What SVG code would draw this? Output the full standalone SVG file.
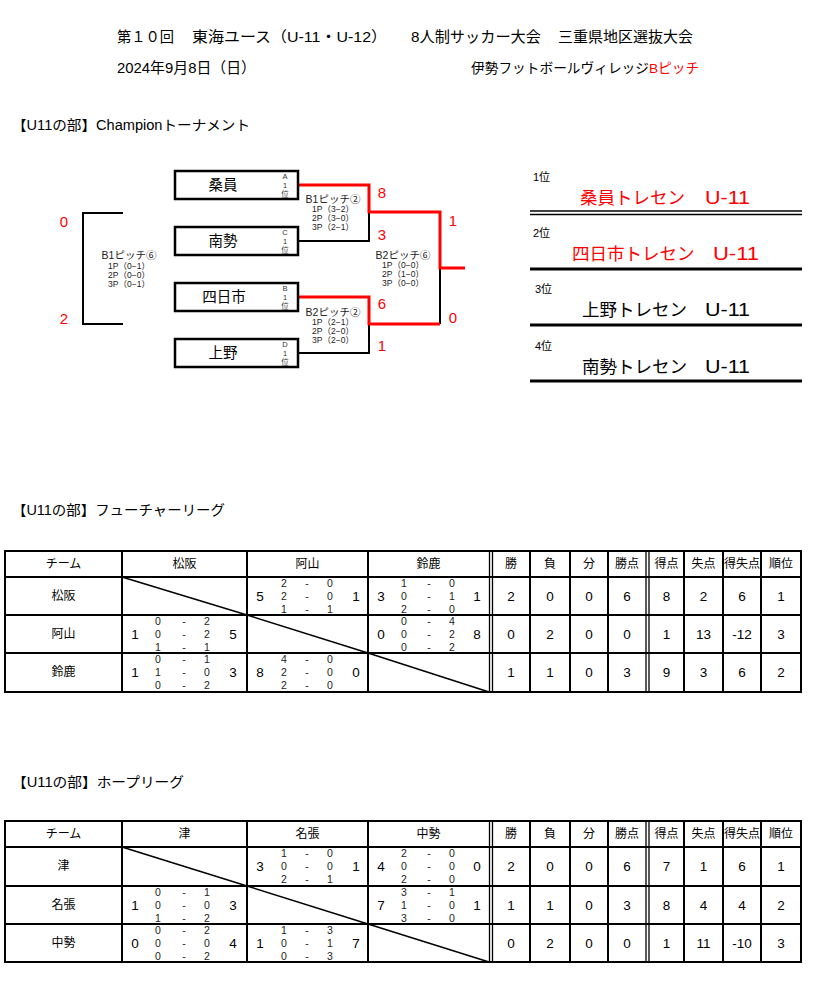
<svg xmlns="http://www.w3.org/2000/svg" width="816" height="984" viewBox="0 0 816 984">
<style>
text{font-family:"Liberation Sans","Noto Sans CJK JP",sans-serif;fill:#000}
.c{text-anchor:middle;dominant-baseline:central}
.red{fill:#ff0000}
.hd{font-size:15px}
.sec{font-size:14px}
.nm{font-size:14.5px}
.sm{font-size:7.5px;fill:#333}
.pt{font-size:10.5px;fill:#222}
.ps{font-size:8.5px;fill:#222}
.sc{font-size:15px;fill:#ff0000}
.rk{font-size:11px}
.rn{font-size:17.5px}
.th{font-size:12px}
.big{font-size:13.5px}
.s{font-size:10.5px;fill:#222}
.box{fill:#fff;stroke:#000;stroke-width:2.5}
.blk{fill:none;stroke:#000;stroke-width:2}
.rd{fill:none;stroke:#ff0000;stroke-width:3}
.grid{fill:none;stroke:#000;stroke-width:2}
.thin{stroke:#000;stroke-width:1.3}
.dg{stroke:#000;stroke-width:1.5}
</style>

<!-- header -->
<text x="117" y="42" class="hd" textLength="57" lengthAdjust="spacingAndGlyphs">第１０回</text>
<text x="192" y="42" class="hd" textLength="195" lengthAdjust="spacingAndGlyphs">東海ユース（U-11・U-12）</text>
<text x="411" y="42" class="hd" textLength="130" lengthAdjust="spacingAndGlyphs">8人制サッカー大会</text>
<text x="558" y="42" class="hd" textLength="135" lengthAdjust="spacingAndGlyphs">三重県地区選抜大会</text>
<text x="117" y="73" class="hd" textLength="139" lengthAdjust="spacingAndGlyphs">2024年9月8日（日）</text>
<text x="471" y="73" font-size="13.7">伊勢フットボールヴィレッジ<tspan class="red">Bピッチ</tspan></text>

<text x="12" y="130" class="sec" textLength="238" lengthAdjust="spacingAndGlyphs">【U11の部】Championトーナメント</text>

<!-- connectors -->
<g id="connectors">
  <polyline class="blk" points="123,213 83,213 83,324 123,324"/>
  <polyline class="blk" points="298,241 369,241 369,212"/>
  <polyline class="blk" points="298,353 369,353 369,324"/>
  <polyline class="blk" points="440,324 440,268"/>
  <polyline class="rd" points="298,185 369,185 369,212 440,212 440,268 465,268"/>
  <polyline class="rd" points="298,297 369,297 369,324 440,324"/>
</g>

<!-- team nodes -->
<g id="node-kuwain">
  <rect class="box" x="175" y="171" width="123" height="28"/>
  <text x="223" y="185" class="c nm">桑員</text>
  <text x="285" y="176" class="c sm">A</text><text x="285" y="185" class="c sm">1</text><text x="285" y="194" class="c sm">位</text>
</g>
<g id="node-nansei">
  <rect class="box" x="175" y="227" width="123" height="28"/>
  <text x="223" y="241" class="c nm">南勢</text>
  <text x="285" y="232" class="c sm">C</text><text x="285" y="241" class="c sm">1</text><text x="285" y="250" class="c sm">位</text>
</g>
<g id="node-yokkaichi">
  <rect class="box" x="175" y="283" width="123" height="28"/>
  <text x="224" y="297" class="c nm">四日市</text>
  <text x="285" y="288" class="c sm">B</text><text x="285" y="297" class="c sm">1</text><text x="285" y="306" class="c sm">位</text>
</g>
<g id="node-ueno">
  <rect class="box" x="175" y="339" width="123" height="28"/>
  <text x="223" y="353" class="c nm">上野</text>
  <text x="285" y="344" class="c sm">D</text><text x="285" y="353" class="c sm">1</text><text x="285" y="362" class="c sm">位</text>
</g>

<!-- match labels -->
<g id="match-3rd">
  <text x="129" y="255" class="c pt">B1ピッチ⑥</text>
  <text x="129" y="266" class="c ps">1P（0−1）</text>
  <text x="129" y="275" class="c ps">2P（0−0）</text>
  <text x="129" y="284" class="c ps">3P（0−1）</text>
  <text x="64" y="221" class="c sc">0</text>
  <text x="64" y="318" class="c sc">2</text>
</g>
<g id="match-semi1">
  <text x="333" y="199" class="c pt">B1ピッチ②</text>
  <text x="333" y="209" class="c ps">1P（3−2）</text>
  <text x="333" y="218" class="c ps">2P（3−0）</text>
  <text x="333" y="227" class="c ps">3P（2−1）</text>
  <text x="382" y="192" class="c sc">8</text>
  <text x="382" y="234" class="c sc">3</text>
</g>
<g id="match-semi2">
  <text x="333" y="312" class="c pt">B2ピッチ②</text>
  <text x="333" y="322" class="c ps">1P（2−1）</text>
  <text x="333" y="331" class="c ps">2P（2−0）</text>
  <text x="333" y="340" class="c ps">3P（2−0）</text>
  <text x="382" y="303" class="c sc">6</text>
  <text x="382" y="345" class="c sc">1</text>
</g>
<g id="match-final">
  <text x="403" y="255" class="c pt">B2ピッチ⑥</text>
  <text x="403" y="265" class="c ps">1P（0−0）</text>
  <text x="403" y="274" class="c ps">2P（1−0）</text>
  <text x="403" y="283" class="c ps">3P（0−0）</text>
  <text x="453" y="220" class="c sc">1</text>
  <text x="453" y="317" class="c sc">0</text>
</g>

<!-- ranking -->
<g id="ranking">
  <text x="533" y="177" class="rk" dominant-baseline="central">1位</text>
  <text x="580" y="198" class="rn red" dominant-baseline="central">桑員トレセン</text>
  <text x="705" y="198" class="rn red" dominant-baseline="central" textLength="45" lengthAdjust="spacingAndGlyphs">U-11</text>
  <line x1="530" y1="211" x2="802" y2="211" stroke="#000" stroke-width="1.5"/>
  <line x1="530" y1="214.5" x2="802" y2="214.5" stroke="#000" stroke-width="1.5"/>
  <text x="533" y="233" class="rk" dominant-baseline="central">2位</text>
  <text x="572" y="254" class="rn red" dominant-baseline="central">四日市トレセン</text>
  <text x="713" y="254" class="rn red" dominant-baseline="central" textLength="46" lengthAdjust="spacingAndGlyphs">U-11</text>
  <line x1="530" y1="269" x2="802" y2="269" stroke="#000" stroke-width="3"/>
  <text x="535" y="289" class="rk" dominant-baseline="central">3位</text>
  <text x="582" y="310" class="rn" dominant-baseline="central">上野トレセン</text>
  <text x="705" y="310" class="rn" dominant-baseline="central" textLength="45" lengthAdjust="spacingAndGlyphs">U-11</text>
  <line x1="530" y1="325" x2="802" y2="325" stroke="#000" stroke-width="3"/>
  <text x="535" y="346" class="rk" dominant-baseline="central">4位</text>
  <text x="582" y="367" class="rn" dominant-baseline="central">南勢トレセン</text>
  <text x="705" y="367" class="rn" dominant-baseline="central" textLength="45" lengthAdjust="spacingAndGlyphs">U-11</text>
  <line x1="530" y1="381" x2="802" y2="381" stroke="#000" stroke-width="3"/>
</g>

<!-- Table 1 -->
<text x="12" y="515" class="sec" textLength="213" lengthAdjust="spacingAndGlyphs">【U11の部】フューチャーリーグ</text>
<g id="table-future">
  <rect class="grid" x="5" y="551" width="796" height="141"/>
  <line class="grid" x1="5" y1="577" x2="801" y2="577"/>
  <line class="grid" x1="5" y1="615" x2="801" y2="615"/>
  <line class="grid" x1="5" y1="653" x2="801" y2="653"/>
  <line class="grid" x1="122" y1="551" x2="122" y2="692"/>
  <line class="grid" x1="247" y1="551" x2="247" y2="692"/>
  <line class="grid" x1="368" y1="551" x2="368" y2="692"/>
  <line class="thin" x1="489.5" y1="551" x2="489.5" y2="692"/>
  <line class="thin" x1="492.5" y1="551" x2="492.5" y2="692"/>
  <line class="grid" x1="530" y1="551" x2="530" y2="692"/>
  <line class="grid" x1="570" y1="551" x2="570" y2="692"/>
  <line class="grid" x1="608" y1="551" x2="608" y2="692"/>
  <line class="thin" x1="646" y1="551" x2="646" y2="692"/>
  <line class="thin" x1="649" y1="551" x2="649" y2="692"/>
  <line class="grid" x1="684" y1="551" x2="684" y2="692"/>
  <line class="grid" x1="723" y1="551" x2="723" y2="692"/>
  <line class="grid" x1="761" y1="551" x2="761" y2="692"/>
  <line class="dg" x1="122" y1="577" x2="247" y2="615"/>
  <line class="dg" x1="247" y1="615" x2="368" y2="653"/>
  <line class="dg" x1="368" y1="653" x2="489" y2="692"/>
  <text x="63.5" y="564" class="c th">チーム</text>
  <text x="184.5" y="564" class="c th">松阪</text>
  <text x="307.5" y="564" class="c th">阿山</text>
  <text x="428.5" y="564" class="c th">鈴鹿</text>
  <text x="511" y="564" class="c th">勝</text>
  <text x="550" y="564" class="c th">負</text>
  <text x="589" y="564" class="c th">分</text>
  <text x="627" y="564" class="c th">勝点</text>
  <text x="666.5" y="564" class="c th">得点</text>
  <text x="703.5" y="564" class="c th">失点</text>
  <text x="742" y="564" class="c th">得失点</text>
  <text x="781" y="564" class="c th">順位</text>
  <text x="63.5" y="596" class="c th">松阪</text>
  <text x="63.5" y="634" class="c th">阿山</text>
  <text x="63.5" y="672" class="c th">鈴鹿</text>
  <!-- row 松阪 -->
  <text x="260" y="596" class="c big">5</text>
  <text x="284 307 330" y="583" class="c s">2-0</text>
  <text x="284 307 330" y="596" class="c s">2-0</text>
  <text x="284 307 330" y="609" class="c s">1-1</text>
  <text x="356" y="596" class="c big">1</text>
  <text x="381" y="596" class="c big">3</text>
  <text x="404 429 452" y="583" class="c s">1-0</text>
  <text x="404 429 452" y="596" class="c s">0-1</text>
  <text x="404 429 452" y="609" class="c s">2-0</text>
  <text x="477" y="596" class="c big">1</text>
  <text x="511 550 589 627 666.5 703.5 742 781" y="596" class="c big">20068261</text>
  <!-- row 阿山 -->
  <text x="135" y="634" class="c big">1</text>
  <text x="158 184 207" y="621" class="c s">0-2</text>
  <text x="158 184 207" y="634" class="c s">0-2</text>
  <text x="158 184 207" y="647" class="c s">1-1</text>
  <text x="233" y="634" class="c big">5</text>
  <text x="381" y="634" class="c big">0</text>
  <text x="404 429 452" y="621" class="c s">0-4</text>
  <text x="404 429 452" y="634" class="c s">0-2</text>
  <text x="404 429 452" y="647" class="c s">0-2</text>
  <text x="477" y="634" class="c big">8</text>
  <text x="511 550 589 627 666.5" y="634" class="c big">02001</text>
  <text x="703.5" y="634" class="c big">13</text>
  <text x="742" y="634" class="c big">-12</text>
  <text x="781" y="634" class="c big">3</text>
  <!-- row 鈴鹿 -->
  <text x="135" y="672" class="c big">1</text>
  <text x="158 184 207" y="659" class="c s">0-1</text>
  <text x="158 184 207" y="672" class="c s">1-0</text>
  <text x="158 184 207" y="685" class="c s">0-2</text>
  <text x="233" y="672" class="c big">3</text>
  <text x="260" y="672" class="c big">8</text>
  <text x="284 307 330" y="659" class="c s">4-0</text>
  <text x="284 307 330" y="672" class="c s">2-0</text>
  <text x="284 307 330" y="685" class="c s">2-0</text>
  <text x="356" y="672" class="c big">0</text>
  <text x="511 550 589 627 666.5 703.5 742 781" y="672" class="c big">11039362</text>
</g>

<!-- Table 2 -->
<text x="12" y="787" class="sec" textLength="172" lengthAdjust="spacingAndGlyphs">【U11の部】ホープリーグ</text>
<g id="table-hope">
  <rect class="grid" x="5" y="821" width="796" height="141"/>
  <line class="grid" x1="5" y1="847" x2="801" y2="847"/>
  <line class="grid" x1="5" y1="886" x2="801" y2="886"/>
  <line class="grid" x1="5" y1="924" x2="801" y2="924"/>
  <line class="grid" x1="122" y1="821" x2="122" y2="962"/>
  <line class="grid" x1="247" y1="821" x2="247" y2="962"/>
  <line class="grid" x1="368" y1="821" x2="368" y2="962"/>
  <line class="thin" x1="489.5" y1="821" x2="489.5" y2="962"/>
  <line class="thin" x1="492.5" y1="821" x2="492.5" y2="962"/>
  <line class="grid" x1="530" y1="821" x2="530" y2="962"/>
  <line class="grid" x1="570" y1="821" x2="570" y2="962"/>
  <line class="grid" x1="608" y1="821" x2="608" y2="962"/>
  <line class="thin" x1="646" y1="821" x2="646" y2="962"/>
  <line class="thin" x1="649" y1="821" x2="649" y2="962"/>
  <line class="grid" x1="684" y1="821" x2="684" y2="962"/>
  <line class="grid" x1="723" y1="821" x2="723" y2="962"/>
  <line class="grid" x1="761" y1="821" x2="761" y2="962"/>
  <line class="dg" x1="122" y1="847" x2="247" y2="886"/>
  <line class="dg" x1="247" y1="886" x2="368" y2="924"/>
  <line class="dg" x1="368" y1="924" x2="489" y2="962"/>
  <text x="63.5" y="834" class="c th">チーム</text>
  <text x="184.5" y="834" class="c th">津</text>
  <text x="307.5" y="834" class="c th">名張</text>
  <text x="428.5" y="834" class="c th">中勢</text>
  <text x="511" y="834" class="c th">勝</text>
  <text x="550" y="834" class="c th">負</text>
  <text x="589" y="834" class="c th">分</text>
  <text x="627" y="834" class="c th">勝点</text>
  <text x="666.5" y="834" class="c th">得点</text>
  <text x="703.5" y="834" class="c th">失点</text>
  <text x="742" y="834" class="c th">得失点</text>
  <text x="781" y="834" class="c th">順位</text>
  <text x="63.5" y="866" class="c th">津</text>
  <text x="63.5" y="905" class="c th">名張</text>
  <text x="63.5" y="943" class="c th">中勢</text>
  <!-- row 津 -->
  <text x="260" y="866" class="c big">3</text>
  <text x="284 307 330" y="853" class="c s">1-0</text>
  <text x="284 307 330" y="866" class="c s">0-0</text>
  <text x="284 307 330" y="879" class="c s">2-1</text>
  <text x="356" y="866" class="c big">1</text>
  <text x="381" y="866" class="c big">4</text>
  <text x="404 429 452" y="853" class="c s">2-0</text>
  <text x="404 429 452" y="866" class="c s">0-0</text>
  <text x="404 429 452" y="879" class="c s">2-0</text>
  <text x="477" y="866" class="c big">0</text>
  <text x="511 550 589 627 666.5 703.5 742 781" y="866" class="c big">20067161</text>
  <!-- row 名張 -->
  <text x="135" y="905" class="c big">1</text>
  <text x="158 184 207" y="892" class="c s">0-1</text>
  <text x="158 184 207" y="905" class="c s">0-0</text>
  <text x="158 184 207" y="918" class="c s">1-2</text>
  <text x="233" y="905" class="c big">3</text>
  <text x="381" y="905" class="c big">7</text>
  <text x="404 429 452" y="892" class="c s">3-1</text>
  <text x="404 429 452" y="905" class="c s">1-0</text>
  <text x="404 429 452" y="918" class="c s">3-0</text>
  <text x="477" y="905" class="c big">1</text>
  <text x="511 550 589 627 666.5 703.5 742 781" y="905" class="c big">11038442</text>
  <!-- row 中勢 -->
  <text x="135" y="943" class="c big">0</text>
  <text x="158 184 207" y="930" class="c s">0-2</text>
  <text x="158 184 207" y="943" class="c s">0-0</text>
  <text x="158 184 207" y="956" class="c s">0-2</text>
  <text x="233" y="943" class="c big">4</text>
  <text x="260" y="943" class="c big">1</text>
  <text x="284 307 330" y="930" class="c s">1-3</text>
  <text x="284 307 330" y="943" class="c s">0-1</text>
  <text x="284 307 330" y="956" class="c s">0-3</text>
  <text x="356" y="943" class="c big">7</text>
  <text x="511 550 589 627 666.5" y="943" class="c big">02001</text>
  <text x="703.5" y="943" class="c big">11</text>
  <text x="742" y="943" class="c big">-10</text>
  <text x="781" y="943" class="c big">3</text>
</g>
</svg>
